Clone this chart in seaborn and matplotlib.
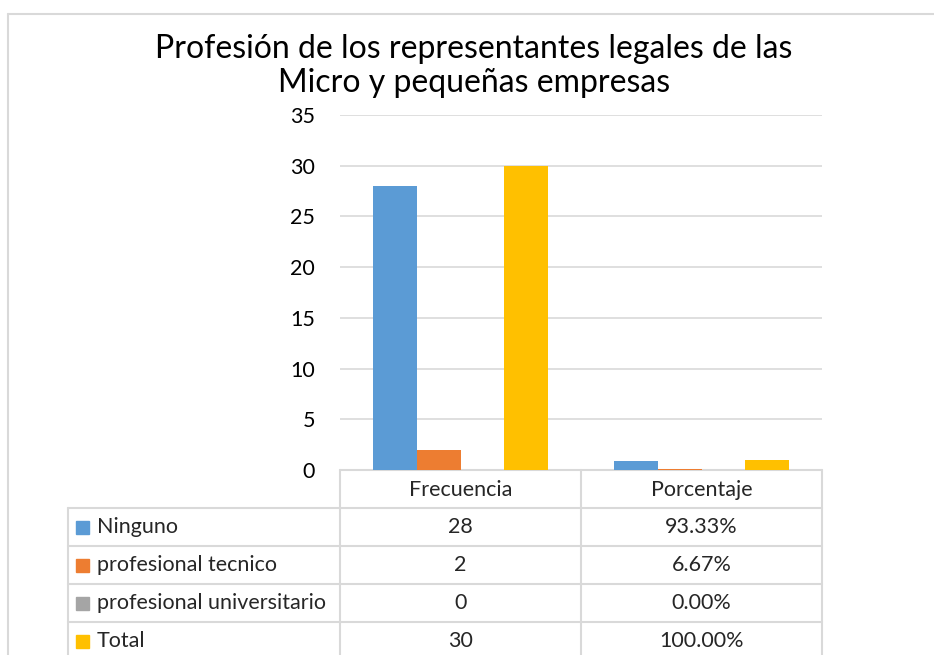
import matplotlib
matplotlib.use("Agg")
import pandas as pd
import matplotlib.pyplot as plt
import matplotlib.transforms as mtransforms
from matplotlib.patches import Rectangle
import seaborn as sns

# Datos
categorias = ["Frecuencia", "Porcentaje"]
series = ["Ninguno", "profesional tecnico", "profesional universitario", "Total"]
ninguno = [28, 0.9333]
tecnico = [2, 0.0667]
universitario = [0, 0.0]
total = [30, 1.0]
colores = ["#5B9BD5", "#ED7D31", "#A5A5A5", "#FFC000"]
titulo = "Profesión de los representantes legales de las\nMicro y pequeñas empresas"

valores = [ninguno, tecnico, universitario, total]
df = pd.DataFrame({
    "categoria": categorias * len(series),
    "serie": [s for s in series for _ in categorias],
    "valor": [v for fila in valores for v in fila],
})

sns.set_theme(style="white")
plt.rcParams["font.family"] = ["Lato", "DejaVu Sans"]

W, H = 934, 655
gris = "#D9D9D9"
fs = 15.5

fig = plt.figure(figsize=(W / 100, H / 100), dpi=100)

def fx(px):
    return px / W

def fy(py):
    return 1 - py / H

# capa de fondo para el marco y la tabla (coordenadas en pixeles)
ov = fig.add_axes([0, 0, 1, 1], zorder=0)
ov.set_xlim(0, W)
ov.set_ylim(H, 0)
ov.axis("off")

# grafico de barras
ax = fig.add_axes([fx(340), fy(470), fx(822) - fx(340), fy(115) - fy(470)], zorder=1)
ax.set_facecolor("none")
sns.barplot(data=df, x="categoria", y="valor", hue="serie", hue_order=series,
            palette=colores, width=0.73, gap=0, saturation=1, linewidth=0,
            legend=False, ax=ax, zorder=3)
ax.set_ylim(0, 35)
ax.set_yticks(range(0, 36, 5))
ax.grid(axis="y", color=gris, linewidth=1.2, zorder=0)
ax.set_axisbelow(True)
for s in ax.spines.values():
    s.set_visible(False)
ax.set_xlabel("")
ax.set_ylabel("")
ax.tick_params(axis="x", length=0, labelbottom=False)
ax.tick_params(axis="y", length=0, pad=18, labelsize=fs, labelcolor="#000000")

# marco exterior
ov.plot([8, W], [14, 14], color=gris, lw=1.5)
ov.plot([8, 8], [14, H], color=gris, lw=1.5)

# tabla de datos
bt = mtransforms.blended_transform_factory(ax.transData, ov.transData)
filas_y = [508, 546, 584, 622]
alto = 38
ov.plot([340, 822], [470, 470], color=gris, lw=1.5)
for xb in [-0.5, 0.5, 1.5]:
    ov.plot([xb, xb], [470, H], color=gris, lw=1.5, transform=bt)
ov.plot([68, 68], [508, H], color=gris, lw=1.5)
for y in filas_y:
    ov.plot([68, 822], [y, y], color=gris, lw=1.5)

for i, cat in enumerate(categorias):
    ov.text(i, 490, cat, transform=bt, ha="center", va="center", fontsize=fs)

for r, (nombre, fila, col) in enumerate(zip(series, valores, colores)):
    yc = filas_y[r] + alto / 2
    ov.add_patch(Rectangle((76, yc - 6.5), 13, 13, color=col))
    ov.text(97, yc, nombre, ha="left", va="center", fontsize=fs)
    ov.text(0, yc, f"{fila[0]:g}", transform=bt, ha="center", va="center", fontsize=fs)
    ov.text(1, yc, f"{fila[1]:.2%}", transform=bt, ha="center", va="center", fontsize=fs)

fig.text(fx(474), fy(66), titulo, ha="center", va="center", fontsize=23,
         linespacing=1.2, color="#000000")

fig.savefig("out.png", dpi=100, facecolor="white")
